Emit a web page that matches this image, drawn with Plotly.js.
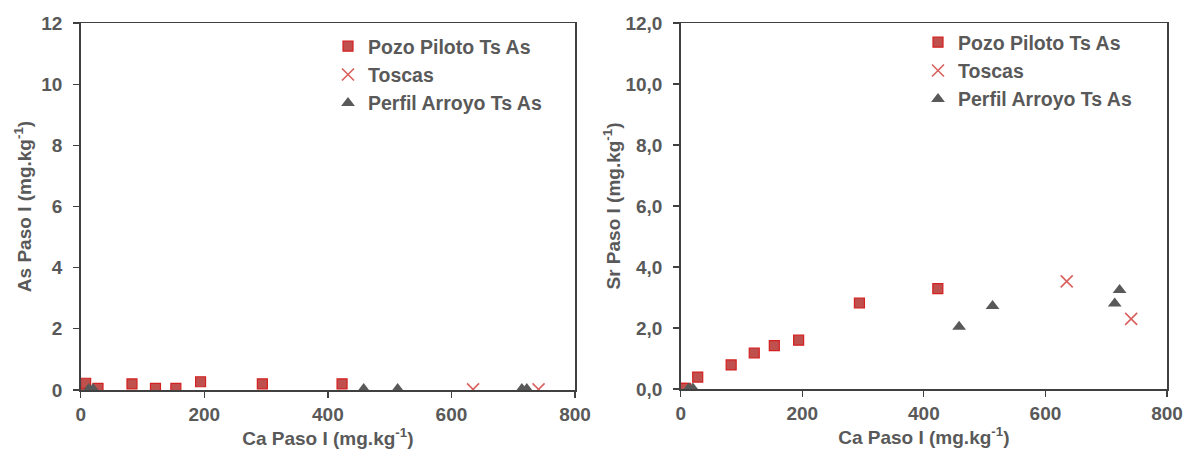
<!DOCTYPE html>
<html>
<head>
<meta charset="utf-8">
<script src="https://cdn.plot.ly/plotly-3.0.1.min.js"></script>
<style>html,body{margin:0;padding:0;background:#fff;}#chart{width:1187px;height:449px;}</style>
</head>
<body>
<div id="chart"></div>
<script>
// Data
const caPozo   = [2, 8, 28, 83, 121, 154, 194, 294, 423];
const asPozo   = [0.10, 0.22, 0.05, 0.20, 0.05, 0.05, 0.27, 0.20, 0.20];
const srPozo   = [0.02, 0.02, 0.39, 0.79, 1.18, 1.42, 1.60, 2.82, 3.29];

const caToscas = [635, 741];
const asToscas = [0.02, 0.02];
const srToscas = [3.53, 2.30];

const caPerfil = [13, 20, 458, 513, 714, 722];
const asPerfil = [0.03, 0.03, 0.03, 0.03, 0.03, 0.03];
const srPerfil = [0.02, 0.02, 2.04, 2.72, 2.80, 3.25];

const names = ['Pozo Piloto Ts As', 'Toscas', 'Perfil Arroyo Ts As'];
const xTitle = 'Ca Paso I (mg.kg<sup>-1</sup>)';
const yTitleLeft = 'As Paso I (mg.kg<sup>-1</sup>)';
const yTitleRight = 'Sr Paso I (mg.kg<sup>-1</sup>)';

const gray = '#595959';
const fam = 'Arial, "Liberation Sans", sans-serif';
const tickFnt = {family: fam, size: 19, color: gray, weight: 'bold'};
const titleFnt = {family: fam, size: 19, color: gray, weight: 'bold'};
const legFnt = {family: fam, size: 19.5, color: gray, weight: 'bold'};

const sqMarker = {symbol: 'square', size: 10, color: '#c0504d', line: {color: '#d42020', width: 1.2}};
const xMarker = {symbol: 'x-thin', size: 12, color: '#d9605e', line: {color: '#d9605e', width: 1.6}};
const triMarker = {symbol: 'triangle-up', size: 12, color: '#595959', line: {width: 0}};

const traces = [
  {x: caPozo, y: asPozo, name: names[0], mode: 'markers', type: 'scatter', marker: sqMarker, xaxis: 'x', yaxis: 'y', legend: 'legend'},
  {x: caToscas, y: asToscas, name: names[1], mode: 'markers', type: 'scatter', marker: xMarker, xaxis: 'x', yaxis: 'y', legend: 'legend'},
  {x: caPerfil, y: asPerfil, name: names[2], mode: 'markers', type: 'scatter', marker: triMarker, xaxis: 'x', yaxis: 'y', legend: 'legend'},
  {x: caPozo, y: srPozo, name: names[0], mode: 'markers', type: 'scatter', marker: sqMarker, xaxis: 'x2', yaxis: 'y2', legend: 'legend2'},
  {x: caToscas, y: srToscas, name: names[1], mode: 'markers', type: 'scatter', marker: xMarker, xaxis: 'x2', yaxis: 'y2', legend: 'legend2'},
  {x: caPerfil, y: srPerfil, name: names[2], mode: 'markers', type: 'scatter', marker: triMarker, xaxis: 'x2', yaxis: 'y2', legend: 'legend2'}
];

const W = 1187, H = 449;
const axCommon = {
  showgrid: false, zeroline: false, showline: true, mirror: true,
  linecolor: '#404040', linewidth: 1.5,
  ticks: 'outside', ticklen: 6, tickwidth: 1.3, tickcolor: '#404040',
  tickfont: tickFnt, automargin: false, fixedrange: true
};

const layout = {
  width: W, height: H,
  margin: {l: 0, r: 0, t: 0, b: 0},
  paper_bgcolor: '#fff', plot_bgcolor: '#fff',
  separators: ',.',
  font: tickFnt,
  showlegend: true,
  xaxis: Object.assign({}, axCommon, {
    domain: [80.7 / W, 575 / W], range: [0, 800], dtick: 200, tickformat: 'd',
    ticklabelstandoff: 1,
    anchor: 'y', title: {text: xTitle, font: titleFnt, standoff: 3}
  }),
  yaxis: Object.assign({}, axCommon, {
    domain: [1 - 390 / H, 1 - 23 / H], range: [0, 12], dtick: 2, tickformat: 'd',
    ticklabelstandoff: 7,
    anchor: 'x', title: {text: yTitleLeft, font: titleFnt, standoff: 4}
  }),
  xaxis2: Object.assign({}, axCommon, {
    domain: [680.7 / W, 1167 / W], range: [0, 800], dtick: 200, tickformat: 'd',
    ticklabelstandoff: 1,
    anchor: 'y2', title: {text: xTitle, font: titleFnt, standoff: 3}
  }),
  yaxis2: Object.assign({}, axCommon, {
    domain: [1 - 389 / H, 1 - 23 / H], range: [0, 12], dtick: 2, tickformat: '.1f',
    ticklabelstandoff: 7,
    anchor: 'x2', title: {text: yTitleRight, font: titleFnt, standoff: 0}
  }),
  legend: {
    x: 328 / W, xanchor: 'left', y: 1 - 27 / H, yanchor: 'top',
    bgcolor: 'rgba(0,0,0,0)', borderwidth: 0, font: legFnt, itemwidth: 30, tracegroupgap: 0
  },
  legend2: {
    x: 918 / W, xanchor: 'left', y: 1 - 23 / H, yanchor: 'top',
    bgcolor: 'rgba(0,0,0,0)', borderwidth: 0, font: legFnt, itemwidth: 30, tracegroupgap: 0
  }
};

Plotly.newPlot('chart', traces, layout, {displayModeBar: false, staticPlot: true});
</script>
</body>
</html>
